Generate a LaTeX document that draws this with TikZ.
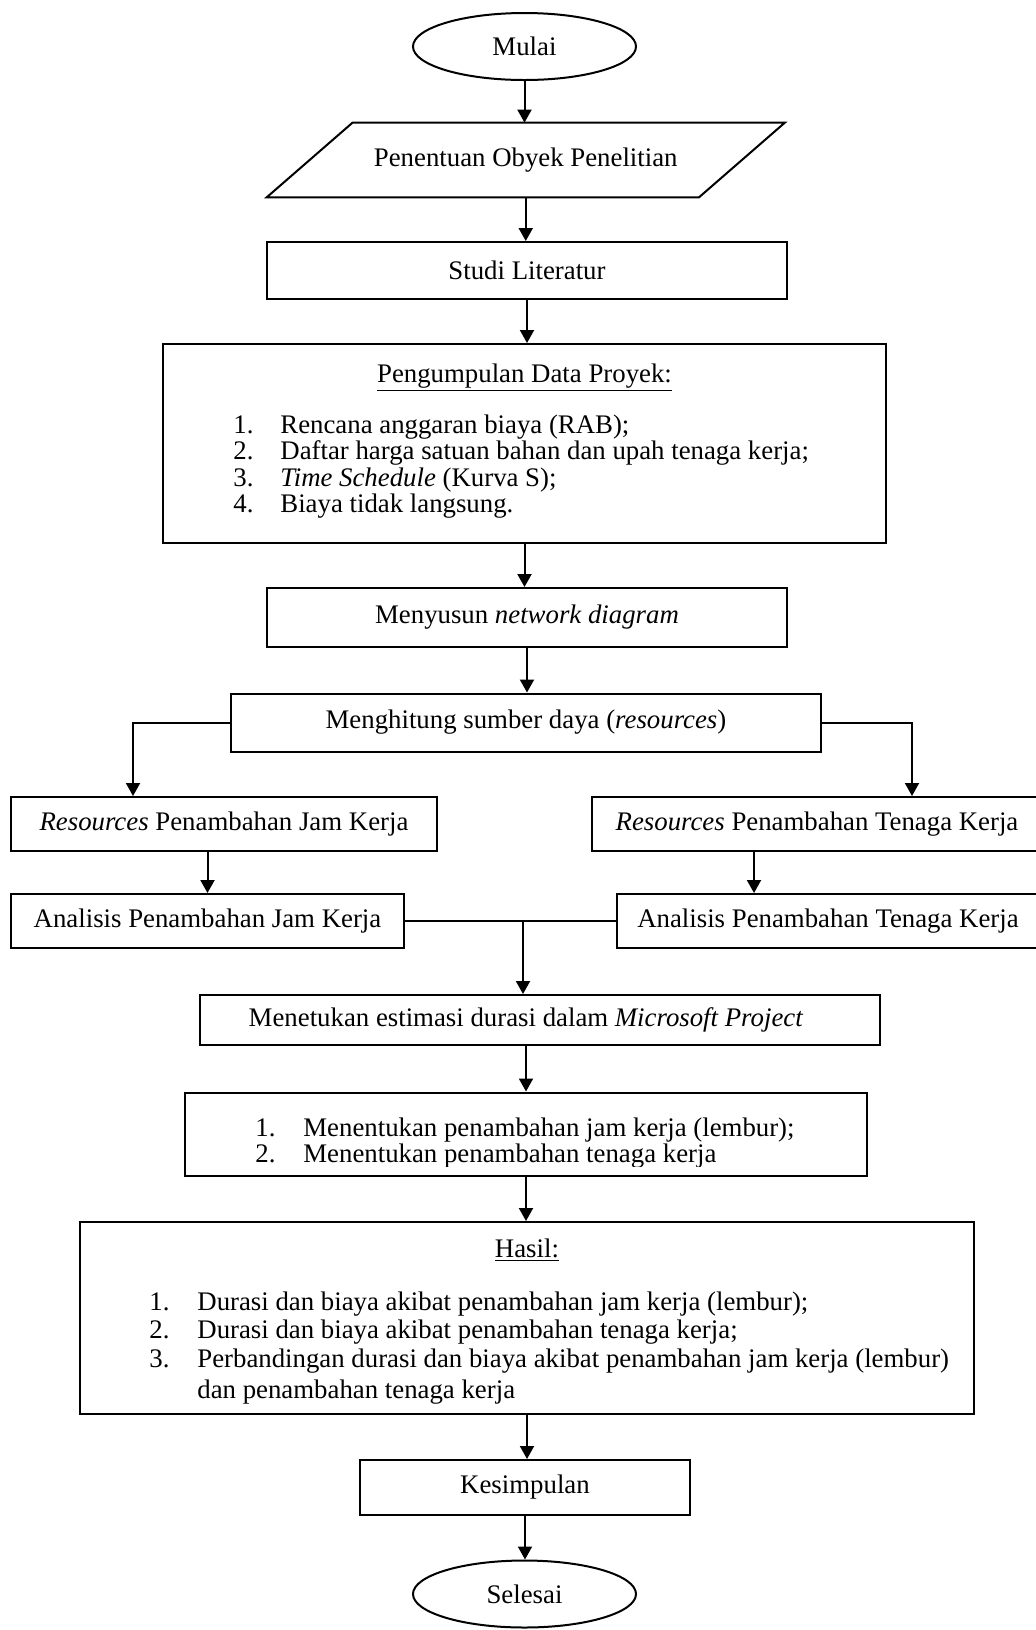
\documentclass[tikz,border=0pt]{standalone}
\usepackage{fontspec}
\setmainfont{Liberation Serif}
\usetikzlibrary{arrows.meta,shapes.geometric}
\newcommand\myfs{\fontsize{13.4}{14}\selectfont}
\begin{document}
\begin{tikzpicture}[x=0.5pt,y=-0.5pt,
  box/.style={draw,line width=1pt,inner sep=0pt,font=\myfs},
  term/.style={draw,ellipse,line width=1pt,inner sep=0pt,font=\myfs},
  plain/.style={inner sep=0pt,font=\myfs},
  txt/.style={inner sep=0pt,font=\myfs,anchor=base west},
  arr/.style={line width=1pt,-{Triangle[width=7pt,length=6.5pt]}},
  lnk/.style={line width=1pt}]
\useasboundingbox (0,0) rectangle (1036,1630);
\clip (0,0) rectangle (1036,1630);
% nodes
\node[term,minimum width=111.5pt,minimum height=33.5pt] (mulai) at (524.5,46.5) {Mulai};
\node[plain,minimum width=215.75pt,minimum height=37pt] (param) at (525.75,160) {Penentuan Obyek Penelitian};
\draw[lnk] ([xshift=21.5pt]param.north west) -- ([xshift=21.5pt]param.north east)
  -- ([xshift=-21.5pt]param.south east) -- ([xshift=-21.5pt]param.south west) -- cycle;
\node[box,minimum width=260pt,minimum height=28.5pt] (studi) at (527,270.5) {Studi Literatur};
\node[box,minimum width=361.5pt,minimum height=99.5pt] (kumpul) at (524.5,443.5) {};
\node[plain,anchor=base] (kumpulT) at (524.5,382) {\underline{Pengumpulan Data Proyek:}};
\node[txt] (k1n) at (233,433) {1.};
\node[txt] (k1) at (280,433) {Rencana anggaran biaya (RAB);};
\node[txt] (k2n) at (233,459) {2.};
\node[txt] (k2) at (280,459) {Daftar harga satuan bahan dan upah tenaga kerja;};
\node[txt] (k3n) at (233,486) {3.};
\node[txt] (k3) at (280,486) {\textit{Time Schedule} (Kurva S);};
\node[txt] (k4n) at (233,512) {4.};
\node[txt] (k4) at (280,512) {Biaya tidak langsung.};
\node[box,minimum width=260pt,minimum height=29.5pt] (susun) at (527,617.5) {Menyusun \textit{network diagram}};
\node[box,minimum width=295pt,minimum height=29pt] (hitung) at (526,722.5) {Menghitung sumber daya (\textit{resources})};
\node[box,minimum width=213pt,minimum height=27pt] (resJam) at (224,824) {\textit{Resources} Penambahan Jam Kerja};
\node[box,minimum width=225pt,minimum height=27pt] (resTen) at (817,824) {\textit{Resources} Penambahan Tenaga Kerja};
\node[box,minimum width=196.5pt,minimum height=27pt] (anJam) at (207.5,921) {Analisis Penambahan Jam Kerja};
\node[box,minimum width=211pt,minimum height=27pt] (anTen) at (828,921) {Analisis Penambahan Tenaga Kerja};
\node[box,minimum width=340pt,minimum height=25pt] (menet) at (540,1020) {};
\node[plain] (menetT) at (526,1020) {Menetukan estimasi durasi dalam \textit{Microsoft Project}};
\node[box,minimum width=341pt,minimum height=41.5pt] (list1) at (526,1134) {};
\begin{scope}
\clip (190,1094) rectangle (866,1166);
\node[txt] (l1n) at (255,1136) {1.};
\node[txt] (l1) at (303,1136) {Menentukan penambahan jam kerja (lembur);};
\node[txt] (l2n) at (255,1162) {2.};
\node[txt] (l2) at (303,1162) {Menentukan penambahan tenaga kerja};
\end{scope}
\node[box,minimum width=447pt,minimum height=96pt] (hasil) at (527,1318) {};
\node[plain,anchor=base] (hasilT) at (527,1257) {\underline{Hasil:}};
\node[txt] (h1n) at (149,1310) {1.};
\node[txt] (h1) at (197,1310) {Durasi dan biaya akibat penambahan jam kerja (lembur);};
\node[txt] (h2n) at (149,1338) {2.};
\node[txt] (h2) at (197,1338) {Durasi dan biaya akibat penambahan tenaga kerja;};
\node[txt] (h3n) at (149,1367) {3.};
\node[txt] (h3) at (197,1367) {Perbandingan durasi dan biaya akibat penambahan jam kerja (lembur)};
\node[txt] (h3b) at (197,1398) {dan penambahan tenaga kerja};
\node[box,minimum width=165pt,minimum height=27.5pt] (kesimp) at (525,1487.5) {Kesimpulan};
\node[term,minimum width=111.5pt,minimum height=33.5pt] (selesai) at (524.5,1594) {Selesai};
% connectors
\draw[arr] (mulai.south) -- (mulai.south |- param.north);
\draw[arr] (param.south) -- (param.south |- studi.north);
\draw[arr] (studi.south) -- (studi.south |- kumpul.north);
\draw[arr] (kumpul.south) -- (kumpul.south |- susun.north);
\draw[arr] (susun.south) -- (susun.south |- hitung.north);
\coordinate (brL) at (133,722.5);
\coordinate (brR) at (912,722.5);
\draw[arr] (hitung.west) -- (brL) -- (brL |- resJam.north);
\draw[arr] (hitung.east) -- (brR) -- (brR |- resTen.north);
\draw[arr] (anJam.north |- resJam.south) -- (anJam.north);
\coordinate (tenX) at (754,0);
\draw[arr] (tenX |- resTen.south) -- (tenX |- anTen.north);
\draw[lnk] (anJam.east) -- (anTen.west);
\coordinate (joinP) at (523,921);
\draw[arr] (joinP) -- (joinP |- menet.north);
\draw[arr] (list1.north |- menet.south) -- (list1.north);
\draw[arr] (list1.south) -- (list1.south |- hasil.north);
\draw[arr] (hasil.south) -- (hasil.south |- kesimp.north);
\draw[arr] (kesimp.south) -- (kesimp.south |- selesai.north);
\end{tikzpicture}
\end{document}
